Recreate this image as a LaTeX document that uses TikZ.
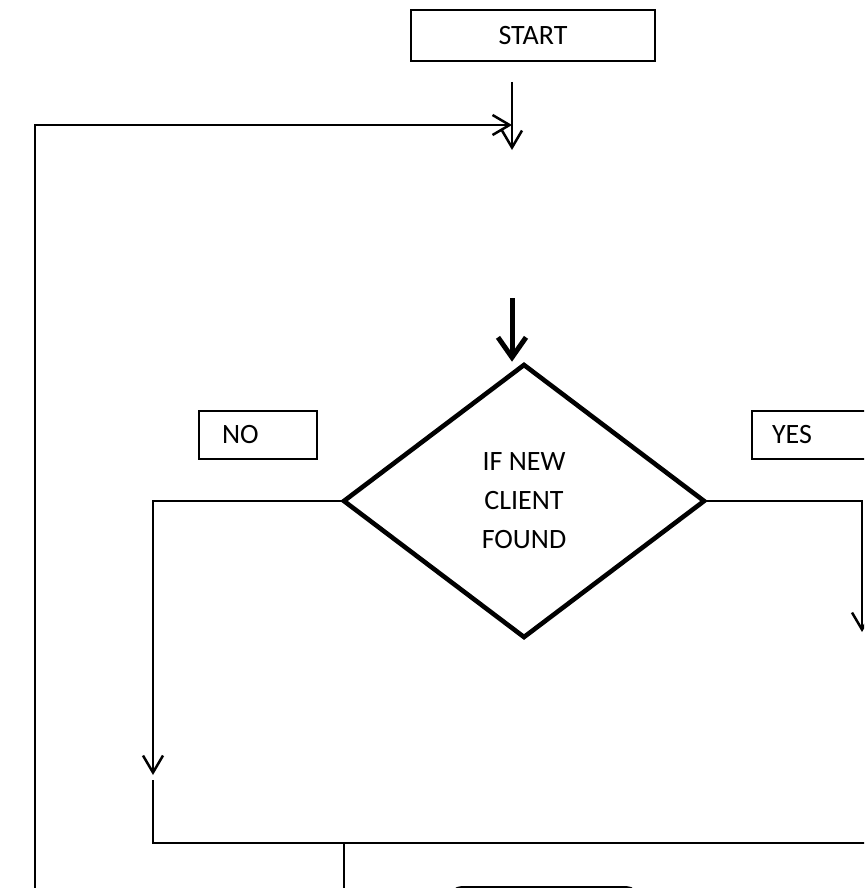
\documentclass[tikz,border=0pt]{standalone}
\usepackage{fontspec}
\setmainfont{Carlito}
\usetikzlibrary{arrows.meta,shapes,positioning}

\tikzset{
  flowline/.style={line width=2.5pt},
  barb/.style={-{Straight Barb[length=17pt,width=20pt]}},
  labelbox/.style={draw, line width=1.3pt, minimum height=48pt, align=left},
}

\begin{document}
\begin{tikzpicture}[x=1pt, y=-1pt, font=\fontsize{28}{39}\selectfont]
    \clip (0,0) rectangle (864,888);
    \fill[white] (0,0) rectangle (864,888);

    % boxes
    \node[draw, line width=2pt, minimum width=244pt, minimum height=51pt] (start) at (533,35.5) {START};
    \node[labelbox, text width=72pt, inner xsep=23pt] (nobox) at (258,435) {NO};
    \node[labelbox, text width=78pt, inner xsep=20pt] (yesbox) at (811,435) {YES};
    \node[diamond, draw, line width=4.6pt, minimum width=362pt, minimum height=274pt,
          inner sep=0pt, align=center] (client) at (524,501) {IF NEW\\CLIENT\\FOUND};
    \node[draw, line width=2.5pt, rounded corners=12pt, minimum width=188pt,
          minimum height=60pt, anchor=north] (stopbox) at (544,886) {};

    % free ends
    \coordinate (entry) at (512,82);
    \coordinate (entryend) at (512,150);
    \coordinate (loopbottom) at (35,892);
    \coordinate (loopcorner) at (35,125);
    \coordinate (into) at (512,298);
    \coordinate (noturn) at (153,503);
    \coordinate (nodrop) at (153,775);
    \coordinate (joinleft) at (153,780);
    \coordinate (joincorner) at (153,843);
    \coordinate (joinright) at (872,843);
    \coordinate (exitbottom) at (344,892);
    \coordinate (yesturn) at (862,503);
    \coordinate (yesdrop) at (862,632);

    % connectors
    \draw[flowline, barb] (entry) -- (entryend);
    \draw[flowline, barb] (loopbottom) -- (loopcorner) -- (loopcorner -| entry);
    \draw[line width=5pt, -{Straight Barb[length=20pt,width=28pt]}] (into) -- (into |- client.north);
    \draw[flowline, barb] (client.west) -- (client.west -| noturn) -- (nodrop);
    \draw[flowline] (joinleft) -- (joincorner) -- (joinright);
    \draw[flowline] (exitbottom |- joincorner) -- (exitbottom);
    \draw[flowline, barb] (client.east) -- (client.east -| yesturn) -- (yesdrop);
\end{tikzpicture}
\end{document}
